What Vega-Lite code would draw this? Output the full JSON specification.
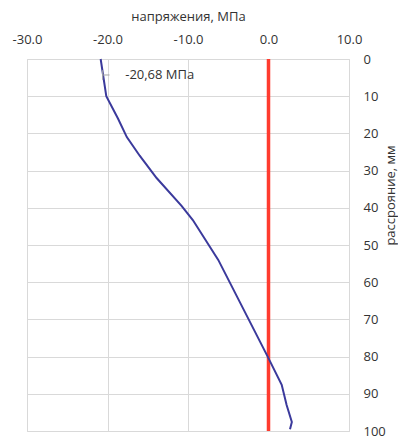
{
  "$schema": "https://vega.github.io/schema/vega-lite/v6.json",
  "width": 322,
  "height": 372,
  "autosize": {"type": "none"},
  "padding": {"left": 27, "top": 59, "right": 49, "bottom": 6},
  "background": "white",
  "config": {
    "view": {"stroke": "#d9d9d9", "strokeWidth": 1},
    "font": "Open Sans",
    "axis": {"labelFont": "Open Sans", "titleFont": "Open Sans", "labelColor": "#333333", "titleColor": "#333333", "titleFontWeight": "normal"}
  },
  "datasets": {
    "profile": [
      {"depth": 0, "stress": -20.85},
      {"depth": 10, "stress": -20.15},
      {"depth": 16, "stress": -18.7},
      {"depth": 21, "stress": -17.6},
      {"depth": 26, "stress": -16.0},
      {"depth": 32, "stress": -13.9},
      {"depth": 39.5, "stress": -10.8},
      {"depth": 43.3, "stress": -9.4},
      {"depth": 54, "stress": -6.24},
      {"depth": 80, "stress": -0.1},
      {"depth": 87.6, "stress": 1.64},
      {"depth": 93, "stress": 2.25},
      {"depth": 97.6, "stress": 2.9},
      {"depth": 99.5, "stress": 2.67}
    ],
    "zero": [{"stress": 0}],
    "label": [{"stress": -17.8, "depth": 4.3, "text": "-20,68 МПа", "x0": -20.6, "x1": -19.75, "d0": 3.0, "d1": 5.6}]
  },
  "encoding": {
    "x": {
      "field": "stress", "type": "quantitative",
      "scale": {"domain": [-30, 10], "nice": false, "zero": false},
      "axis": {
        "orient": "top", "title": "напряжения, МПа", "values": [-30, -20, -10, 0, 10],
        "labelExpr": "replace(format(datum.value, '.1f'), '\u2212', '-')",
        "grid": true, "gridColor": "#d9d9d9", "ticks": false, "tickSize": 0, "domain": false,
        "labelFontSize": 13, "labelPadding": 13, "titleFontSize": 13, "titlePadding": 10,
        "labelFlush": false
      }
    },
    "y": {
      "field": "depth", "type": "quantitative",
      "scale": {"domain": [0, 100], "reverse": true, "nice": false},
      "axis": {
        "orient": "right", "title": "рассрояние, мм", "values": [0, 10, 20, 30, 40, 50, 60, 70, 80, 90, 100],
        "grid": true, "gridColor": "#d9d9d9", "ticks": false, "tickSize": 0, "domain": false,
        "labelFontSize": 13, "labelPadding": 14, "labelFlush": false,
        "titleFontSize": 13, "titleAngle": 270, "titleX": 41, "titleY": 136,
        "titleAlign": "center", "titleBaseline": "middle"
      }
    }
  },
  "layer": [
    {
      "data": {"name": "zero"},
      "mark": {"type": "rule", "color": "#ff3b2f", "strokeWidth": 3.5},
      "encoding": {"y": null}
    },
    {
      "data": {"name": "profile"},
      "mark": {"type": "line", "color": "#3b3a9c", "strokeWidth": 2},
      "encoding": {"order": {"field": "depth"}}
    },
    {
      "data": {"name": "label"},
      "mark": {"type": "rule", "color": "#a6a6a6", "strokeWidth": 1},
      "encoding": {"x": {"field": "x0", "type": "quantitative"}, "x2": {"field": "x1"}}
    },
    {
      "data": {"name": "label"},
      "mark": {"type": "rule", "color": "#a6a6a6", "strokeWidth": 1},
      "encoding": {"x": {"field": "x0", "type": "quantitative"}, "y": {"field": "d0", "type": "quantitative"}, "y2": {"field": "d1"}}
    },
    {
      "data": {"name": "label"},
      "mark": {"type": "text", "align": "left", "baseline": "middle", "fontSize": 13, "color": "#333333", "font": "Open Sans"},
      "encoding": {"text": {"field": "text"}}
    }
  ]
}
